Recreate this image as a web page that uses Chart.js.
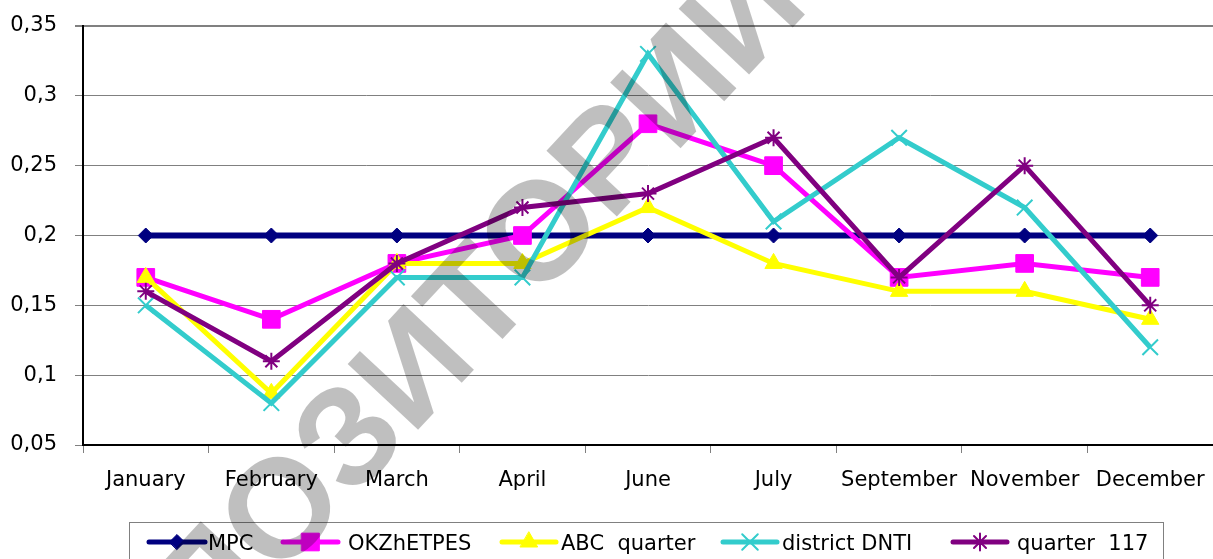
<!DOCTYPE html>
<html><head><meta charset="utf-8">
<script src="https://cdn.jsdelivr.net/npm/chart.js@4.4.0/dist/chart.umd.min.js"></script>
<style>html,body{margin:0;padding:0;background:#fff;overflow:hidden}#wrap{width:1213px;height:559px;position:relative}</style>
</head><body><div id="wrap"><canvas id="c" width="1213" height="559"></canvas></div>
<script>
const categories = ['January','February','March','April','June','July','September','November','December'];
const mpc        = [0.20, 0.20, 0.20, 0.20, 0.20, 0.20, 0.20, 0.20, 0.20];
const okzhetpes  = [0.17, 0.14, 0.18, 0.20, 0.28, 0.25, 0.17, 0.18, 0.17];
const abcQuarter = [0.17, 0.087, 0.18, 0.18, 0.22, 0.18, 0.16, 0.16, 0.14];
const districtDnti = [0.15, 0.08, 0.17, 0.17, 0.33, 0.21, 0.27, 0.22, 0.12];
const quarter117 = [0.16, 0.11, 0.18, 0.22, 0.23, 0.27, 0.17, 0.25, 0.15];
const seriesNames = ['MPC', 'OKZhETPES', 'ABC  quarter', 'district DNTI', 'quarter  117'];
const yTickValues = [0.05, 0.10, 0.15, 0.20, 0.25, 0.30, 0.35];
const yTickLabels = ['0,05', '0,1', '0,15', '0,2', '0,25', '0,3', '0,35'];
const watermark = 'РЕПОЗИТОРИЙ';

const FONT = "'DejaVu Sans'";
const styles = [
  {color:'#000080', pointStyle:'rectRot', radius:7.5, width:6, pbw:1},
  {color:'#FF00FF', pointStyle:'rect', radius:12.5, width:5, pbw:1},
  {color:'#FFFF00', pointStyle:'triangle', radius:10, width:5, pbw:1},
  {color:'#33CCCC', pointStyle:'crossRot', radius:11, width:5, pbw:2},
  {color:'#800080', pointStyle:'star', radius:8.5, width:5, pbw:2}
];
const seriesData = [mpc, okzhetpes, abcQuarter, districtDnti, quarter117];

const datasets = seriesData.map((d, i) => ({
  label: seriesNames[i],
  data: d,
  borderColor: styles[i].color,
  backgroundColor: styles[i].color,
  borderWidth: styles[i].width,
  pointStyle: styles[i].pointStyle,
  pointRadius: styles[i].radius,
  pointHoverRadius: styles[i].radius,
  pointBorderWidth: styles[i].pbw,
  pointBackgroundColor: styles[i].color,
  pointBorderColor: styles[i].color,
  tension: 0,
  fill: false,
  order: 5 - i
}));

const legendLayout = [
  {x1:149, x2:205, tx:208},
  {x1:283, x2:338, tx:348},
  {x1:502, x2:556, tx:561},
  {x1:723, x2:777, tx:782},
  {x1:953, x2:1007, tx:1017}
];

const legendPlugin = {
  id: 'excelLegend',
  afterDraw(chart) {
    const ctx = chart.ctx;
    ctx.save();
    ctx.strokeStyle = '#808080';
    ctx.lineWidth = 1;
    ctx.strokeRect(129.5, 522.5, 1163 - 129, 60);
    const y = 542;
    seriesNames.forEach((name, i) => {
      const L = legendLayout[i], s = styles[i];
      ctx.strokeStyle = s.color;
      ctx.lineWidth = 5;
      ctx.lineCap = 'round';
      ctx.beginPath(); ctx.moveTo(L.x1, y); ctx.lineTo(L.x2, y); ctx.stroke();
      ctx.fillStyle = s.color;
      ctx.lineWidth = s.pbw;
      Chart.helpers.drawPoint(ctx, {pointStyle: s.pointStyle, radius: s.radius, rotation: 0, borderWidth: s.pbw}, (L.x1 + L.x2) / 2, y);
      ctx.fillStyle = '#000';
      ctx.font = "21px " + FONT;
      ctx.textBaseline = 'alphabetic';
      ctx.textAlign = 'left';
      ctx.fillText(name, L.tx, 550);
    });
    // watermark
    ctx.translate(410, 365);
    ctx.rotate(-47 * Math.PI / 180);
    ctx.font = "bold 140px 'Liberation Sans'";
    ctx.fillStyle = 'rgba(0,0,0,0.25)';
    ctx.textAlign = 'center';
    ctx.textBaseline = 'alphabetic';
    ctx.fillText(watermark, 0, 50);
    ctx.restore();
  }
};

new Chart(document.getElementById('c'), {
  type: 'line',
  data: { labels: categories, datasets },
  options: {
    responsive: false,
    animation: false,
    devicePixelRatio: 1,
    events: [],
    layout: { autoPadding: false, padding: { top: 26, right: 0, left: 0, bottom: 0 } },
    plugins: { legend: { display: false }, tooltip: { enabled: false } },
    scales: {
      x: {
        type: 'category',
        offset: true,
        grid: { offset: true, drawOnChartArea: false, drawTicks: true, tickLength: 8, color: '#808080', lineWidth: 1 },
        border: { display: true, color: '#000', width: 2 },
        ticks: { color: '#000', font: { family: FONT, size: 21 }, padding: 15, maxRotation: 0, autoSkip: false },
        afterFit(s) { s.height = 114; s.paddingLeft = 0; s.paddingRight = 0; }
      },
      y: {
        min: yTickValues[0],
        max: yTickValues[yTickValues.length - 1],
        afterBuildTicks(s) { s.ticks = yTickValues.map(v => ({ value: v })); },
        ticks: {
          color: '#000', font: { family: FONT, size: 21 }, padding: 18,
          callback: (v, i) => yTickLabels[i]
        },
        grid: { color: '#808080', lineWidth: c => (c.index === yTickValues.length - 1 ? 2 : 1), tickLength: 8, drawTicks: true },
        border: { display: true, color: '#000', width: 2 },
        afterFit(s) { s.width = 83; s.paddingTop = 0; s.paddingBottom = 0; }
      }
    }
  },
  plugins: [legendPlugin]
});
</script>
</body></html>
